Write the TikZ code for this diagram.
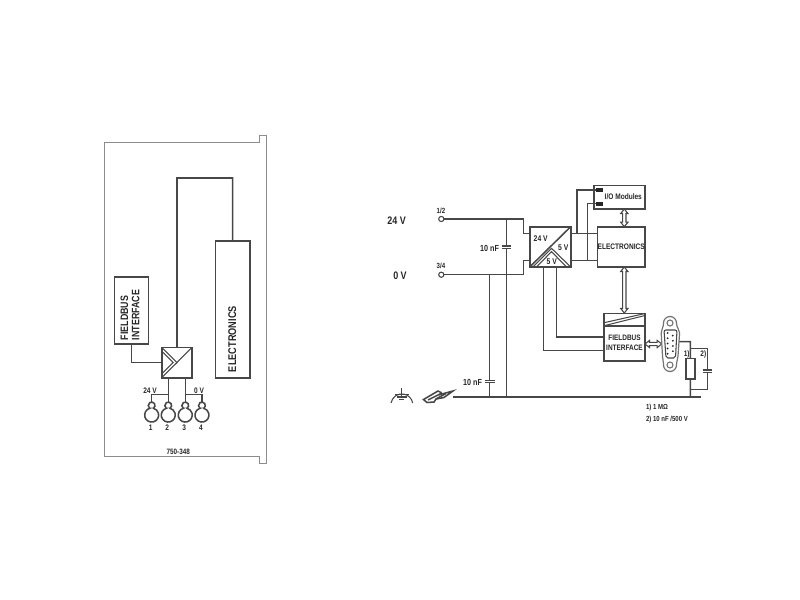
\documentclass[tikz,border=0pt]{standalone}
\usepackage{fontspec}
\setmainfont{Liberation Sans}
\newfontfamily\nar[FakeStretch=0.82]{Liberation Sans}
\colorlet{ink}{black!72}
\tikzset{x=0.75pt,y=-0.75pt,
  wire/.style={draw=ink,line width=1.15pt},
  thin wire/.style={draw=ink,line width=0.8pt},
  frame/.style={draw=black!45,line width=0.7pt},
  blockbox/.style={draw=ink,line width=1.2pt,inner sep=0pt,outer sep=0pt,align=center},
  term/.style={circle,draw=ink,line width=0.8pt,fill=white,inner sep=0pt,minimum size=3.9pt,outer sep=0pt},
  lab/.style={inner sep=0pt,outer sep=0pt,text=black!85,font=\nar\bfseries\fontsize{#1}{#1}\selectfont},
  lab/.default=5.2,
  hollow/.style={draw=ink,line width=0.8pt,fill=white},
  conn/.style={fill=black!85,draw=none,inner sep=0pt,outer sep=0pt,minimum width=5pt,minimum height=2.9pt}}
\newcommand{\blk}[6]{\node[blockbox,minimum width={(#4-#2)*0.75pt},minimum height={(#5-#3)*0.75pt}] (#1) at ({(#2+#4)/2},{(#3+#5)/2}) {#6};}
\newcommand{\vdarrow}[3]{\draw[hollow] (#1-1.7,#2+4.5) -- (#1-3.6,#2+4.5) -- (#1,#2) -- (#1+3.6,#2+4.5) -- (#1+1.7,#2+4.5) -- (#1+1.7,#3-4.5) -- (#1+3.6,#3-4.5) -- (#1,#3) -- (#1-3.6,#3-4.5) -- (#1-1.7,#3-4.5) -- cycle;}
\begin{document}
\begin{tikzpicture}
\useasboundingbox (0,0) rectangle (800,600);
% ---------- left housing
\draw[frame] (104,456) -- (104,142) -- (259,142) -- (259,135) -- (266.5,135) -- (266.5,463) -- (259,463) -- (259,456) -- cycle;
\blk{lelec}{215.5}{241}{249.7}{377.7}{}
\node[lab=8.4,rotate=90,anchor=west] (lelect) at (232.3,372) {ELECTRONICS};
\blk{lfield}{114.3}{276.7}{148.3}{344}{}
\node[lab=8.1,rotate=90,anchor=west] (lf1) at (124.3,340) {FIELDBUS};
\node[lab=8.1,rotate=90,anchor=west] (lf2) at (135.7,340) {INTERFACE};
\blk{lconv}{161.7}{347.3}{192}{377.7}{}
\draw[thin wire] (lconv.north east) -- (177,362.5) -- (lconv.north west);
\draw[thin wire] (177,362.5) -- (lconv.south west);
\draw[thin wire] (161.7,351) -- (173.2,362.5) -- (161.7,374);
\coordinate (lw) at (177,178);
\coordinate (le) at (232.6,178);
\draw[wire] (177,347.3) -- (lw) -- (le) -- (lelec.north);
\draw[wire] (lfield.south) |- (lconv.west);
% keyholes
\foreach \n/\x in {1/151.7,2/168.3,3/185.3,4/202}{
  \coordinate (ks\n) at (\x,402.1);
  \draw[wire,fill=white] (\x-1.9,408.3) arc[start angle=254.6,end angle=-74.6,radius=7] arc[start angle=56,end angle=-236,radius=3.4] -- cycle;
  \node[lab=6] (kn\n) at (\x-1,427.7) {\n};
}
\coordinate (p2) at (168.3,377.7);
\coordinate (p3) at (185.3,377.7);
\draw[wire] (p2) -- (168.3,394.7) coordinate (b2) -- (ks2);
\draw[wire] (b2) -| (ks1);
\draw[wire] (p3) -- (185.3,394.7) coordinate (b3) -- (ks3);
\draw[wire] (b3) -| (ks4);
\node[lab=6] (l24) at (150,390.5) {24 V};
\node[lab=6] (l0) at (199,390.5) {0 V};
\node[lab=5.8] (lmod) at (178.3,452.3) {750-348};
% ---------- right schematic
\node[lab=8.2] (v24) at (396.7,220.7) {24 V};
\node[lab=8.2] (v0) at (400,276) {0 V};
\node[term] (t12) at (441.3,219) {};
\node[term] (t34) at (441.3,274.7) {};
\node[lab=5.6] (t12l) at (441,210.7) {1/2};
\node[lab=5.6] (t34l) at (441,266.3) {3/4};
\blk{conv}{529.7}{226.7}{570.7}{267}{}
\blk{ioM}{593.7}{185.3}{645}{209}{}
\node[lab=6] (iot) at (623.3,197) {I/O Modules};
\blk{relec}{597.3}{226.7}{645}{267}{}
\node[lab=6] (elt) at (621.2,246.5) {ELECTRONICS};
\blk{rfield}{604}{313.3}{645}{361}{}
% power in
\draw[wire] (t12) -- (523.3,219) coordinate (a1) -- (523.3,233.5) coordinate (a2) -- (conv.west |- a2);
\draw[wire] (t34) -- (523.3,274.7) coordinate (a3) -- (523.3,260.3) coordinate (a4) -- (conv.west |- a4);
% rails
\coordinate (g1) at (506.3,397);
\coordinate (g2) at (489.3,397);
\coordinate (railend) at (453,397);
\coordinate (gend) at (700.7,397);
\draw[wire] (railend) -- (gend);
\draw[wire] (506.3,219) -- (506.3,246);
\draw[wire] (506.3,248.4) -- (g1);
\draw[wire] (489.3,274.7) -- (489.3,380.2);
\draw[wire] (489.3,382.6) -- (g2);
\draw[thin wire] (501.7,246) -- (511.3,246) (501.7,248.4) -- (511.3,248.4);
\draw[thin wire] (484.5,380.2) -- (494.5,380.2) (484.5,382.6) -- (494.5,382.6);
\node[lab=6.6] (c1l) at (489.5,248) {10 nF};
\node[lab=6.6] (c2l) at (472.5,382) {10 nF};
% converter interior
\draw[wire] (conv.north east) -- (conv.south west);
\draw[thin wire] (533,267) -- (551.5,248.3) -- (570.7,267);
\draw[thin wire] (536.5,267) -- (551.5,251.6) -- (566.5,267);
\node[lab=6.2] (c24) at (540.7,239) {24 V};
\node[lab=6.2] (c5a) at (563.3,247.7) {5 V};
\node[lab=6.2] (c5b) at (551.7,261.5) {5 V};
% converter to electronics
\coordinate (o1) at (570.7,233.3);
\coordinate (o2) at (570.7,260.3);
\draw[wire] (o1) -- (relec.west |- o1);
\draw[wire] (o2) -- (relec.west |- o2);
\node[conn] (ca) at (599.3,190) {};
\node[conn] (cb) at (599.3,203.7) {};
\draw[wire] (577,233.3) |- (ca.west);
\draw[wire] (587.3,260.3) |- (cb.west);
% hollow arrows
\vdarrow{624.3}{209}{226.7}
\vdarrow{624.3}{267}{313}
% fieldbus
\draw[wire] (rfield.west |- 0,326) -- (rfield.east |- 0,326);
\draw[thin wire] (605,325.5) -- (645,315.5);
\draw[thin wire] (605,322.5) -- (645,313.5);
\node[lab=5.9,align=center] (ft) at (624.5,342.8) {FIELDBUS\\[1.3pt]INTERFACE};
\coordinate (q1) at (556.7,267);
\coordinate (q2) at (543.3,267);
\draw[wire] (q1) |- (rfield.west |- 0,337);
\draw[wire] (q2) |- (rfield.west |- 0,350.7);
% horizontal hollow arrow
\draw[hollow] (649.5,342.3) -- (649.5,340.4) -- (645,344) -- (649.5,347.6) -- (649.5,345.7) -- (657.2,345.7) -- (657.2,347.6) -- (661.7,344) -- (657.2,340.4) -- (657.2,342.3) -- cycle;
% d-sub
\draw[hollow,draw=black!55,line width=0.9pt] (663.5,323) arc[start angle=180,end angle=360,radius=6.5] .. controls (676.5,328) and (679.6,329) .. (679.6,333) -- (678,356) .. controls (678,359) and (676.5,361) .. (676.5,365) arc[start angle=0,end angle=180,radius=6.5] .. controls (663.5,361) and (662.5,359) .. (662.5,356) -- (661.2,333) .. controls (661.2,329) and (663.5,328) .. (663.5,323) -- cycle;
\draw[black!55,line width=0.8pt] (670,323) circle[radius=3] (670,365) circle[radius=3];
\draw[ink,line width=0.8pt,rounded corners=1.5pt] (664,330) -- (677,330) -- (675.5,358) -- (666,358) -- cycle;
\foreach \y in {333,338.2,343.4,348.6,353.8}{\fill[black!85] (667.6,\y) circle[radius=1];}
\foreach \y in {335.6,340.8,346,351.2}{\fill[black!85] (672.8,\y) circle[radius=1];}
\coordinate (ds) at (679.3,341.7);
% resistor & cap
\blk{res}{686}{358.3}{694.7}{379}{}
\coordinate (rt) at (690.3,341.7);
\coordinate (jn) at (690.3,389.3);
\draw[wire] (ds) -- (rt) -- (res.north);
\draw[wire] (res.south) -- (690.3,397);
\coordinate (cp) at (707.3,348.7);
\draw[thin wire] (690.3,348.7) -- (cp) -- (707.3,370);
\draw[thin wire] (707.3,372.4) -- (707.3,389.3) -- (jn);
\draw[thin wire] (702.8,370) -- (711.8,370) (702.8,372.4) -- (711.8,372.4);
\node[lab=6] (r1) at (686.7,354) {1)};
\node[lab=6] (r2) at (703.3,354) {2)};
\node[lab=5.5,anchor=west] (n1) at (646,407.3) {1) 1 MΩ};
\node[lab=5.5,anchor=west] (n2) at (646,419.3) {2) 10 nF /500 V};
% earth symbol
\draw[thin wire] (401.7,388) -- (401.7,398);
\draw[thin wire] (394.5,394.8) -- (409,394.8) (396.8,397) -- (406.6,397) (399,399.2) -- (404.4,399.2);
\draw[thin wire] (391,403) arc[start angle=190,end angle=350,radius=11];
% DIN rail
\draw[wire,fill=white] (423.5,399.5) -- (438,391) -- (441,392.5) -- (440,394.5) -- (453,391) -- (444,397.5) -- (436,399) -- (434,402) -- (427,402.5) -- cycle;
\draw[wire] (428,400) -- (441,393.5) (436,399) -- (446,393.5);
\end{tikzpicture}
\end{document}
